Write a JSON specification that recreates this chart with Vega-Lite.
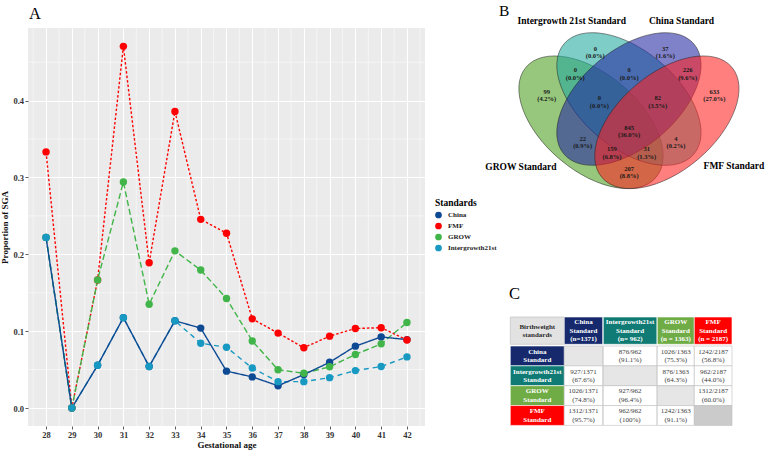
{
  "$schema": "https://vega.github.io/schema/vega-lite/v6.json",
  "padding": {"top": 3, "left": 0, "right": 0, "bottom": 0},
  "background": "white",
  "config": {
    "font": "Liberation Serif",
    "view": {"stroke": null},
    "axis": {"domain": false, "grid": true, "gridColor": "#FFFFFF", "gridWidth": 1.1, "tickColor": "#333333", "tickSize": 3, "tickWidth": 0.8, "labelFont": "Liberation Serif", "labelFontSize": 8.5, "labelFontWeight": "bold", "labelColor": "#333333", "titleFont": "Liberation Serif", "titleFontSize": 9, "titleFontWeight": "bold", "titleColor": "#111111"},
    "axisX": {"labelPadding": 1.5, "titlePadding": 1.5},
    "axisY": {"labelPadding": 1.5, "titlePadding": 3},
    "legend": {"titleFont": "Liberation Serif", "titleFontSize": 9.5, "titleFontWeight": "bold", "titleColor": "#000000", "labelFont": "Liberation Serif", "labelFontSize": 7, "labelFontWeight": "bold", "labelColor": "#222222", "symbolSize": 45, "symbolStrokeWidth": 0, "rowPadding": 3, "titlePadding": 4, "padding": 0, "labelOffset": 6}
  },
  "datasets": {
    "sga": [
      {"standard": "Intergrowth21st", "ga": 28, "p": 0.222},
      {"standard": "Intergrowth21st", "ga": 29, "p": 0},
      {"standard": "Intergrowth21st", "ga": 30, "p": 0.0556},
      {"standard": "Intergrowth21st", "ga": 31, "p": 0.1176},
      {"standard": "Intergrowth21st", "ga": 32, "p": 0.054},
      {"standard": "Intergrowth21st", "ga": 33, "p": 0.1135},
      {"standard": "Intergrowth21st", "ga": 34, "p": 0.0843},
      {"standard": "Intergrowth21st", "ga": 35, "p": 0.079},
      {"standard": "Intergrowth21st", "ga": 36, "p": 0.052},
      {"standard": "Intergrowth21st", "ga": 37, "p": 0.0343},
      {"standard": "Intergrowth21st", "ga": 38, "p": 0.0343},
      {"standard": "Intergrowth21st", "ga": 39, "p": 0.0395},
      {"standard": "Intergrowth21st", "ga": 40, "p": 0.0487},
      {"standard": "Intergrowth21st", "ga": 41, "p": 0.054},
      {"standard": "Intergrowth21st", "ga": 42, "p": 0.0665},
      {"standard": "FMF", "ga": 28, "p": 0.3333},
      {"standard": "FMF", "ga": 29, "p": 0},
      {"standard": "FMF", "ga": 30, "p": 0.1667},
      {"standard": "FMF", "ga": 31, "p": 0.4706},
      {"standard": "FMF", "ga": 32, "p": 0.189},
      {"standard": "FMF", "ga": 33, "p": 0.386},
      {"standard": "FMF", "ga": 34, "p": 0.2455},
      {"standard": "FMF", "ga": 35, "p": 0.2275},
      {"standard": "FMF", "ga": 36, "p": 0.116},
      {"standard": "FMF", "ga": 37, "p": 0.0975},
      {"standard": "FMF", "ga": 38, "p": 0.0785},
      {"standard": "FMF", "ga": 39, "p": 0.0935},
      {"standard": "FMF", "ga": 40, "p": 0.1035},
      {"standard": "FMF", "ga": 41, "p": 0.1045},
      {"standard": "FMF", "ga": 42, "p": 0.0885},
      {"standard": "GROW", "ga": 28, "p": 0.222},
      {"standard": "GROW", "ga": 29, "p": 0},
      {"standard": "GROW", "ga": 30, "p": 0.1667},
      {"standard": "GROW", "ga": 31, "p": 0.2941},
      {"standard": "GROW", "ga": 32, "p": 0.1351},
      {"standard": "GROW", "ga": 33, "p": 0.2045},
      {"standard": "GROW", "ga": 34, "p": 0.1795},
      {"standard": "GROW", "ga": 35, "p": 0.1425},
      {"standard": "GROW", "ga": 36, "p": 0.0872},
      {"standard": "GROW", "ga": 37, "p": 0.0498},
      {"standard": "GROW", "ga": 38, "p": 0.0452},
      {"standard": "GROW", "ga": 39, "p": 0.0536},
      {"standard": "GROW", "ga": 40, "p": 0.0697},
      {"standard": "GROW", "ga": 41, "p": 0.0835},
      {"standard": "GROW", "ga": 42, "p": 0.1112},
      {"standard": "China", "ga": 28, "p": 0.222},
      {"standard": "China", "ga": 29, "p": 0},
      {"standard": "China", "ga": 30, "p": 0.0556},
      {"standard": "China", "ga": 31, "p": 0.1176},
      {"standard": "China", "ga": 32, "p": 0.054},
      {"standard": "China", "ga": 33, "p": 0.1135},
      {"standard": "China", "ga": 34, "p": 0.104},
      {"standard": "China", "ga": 35, "p": 0.048},
      {"standard": "China", "ga": 36, "p": 0.0405},
      {"standard": "China", "ga": 37, "p": 0.029},
      {"standard": "China", "ga": 38, "p": 0.0435},
      {"standard": "China", "ga": 39, "p": 0.0595},
      {"standard": "China", "ga": 40, "p": 0.0805},
      {"standard": "China", "ga": 41, "p": 0.0925},
      {"standard": "China", "ga": 42, "p": 0.089}
    ],
    "minorx": [{"v": 27.5}, {"v": 28.5}, {"v": 29.5}, {"v": 30.5}, {"v": 31.5}, {"v": 32.5}, {"v": 33.5}, {"v": 34.5}, {"v": 35.5}, {"v": 36.5}, {"v": 37.5}, {"v": 38.5}, {"v": 39.5}, {"v": 40.5}, {"v": 41.5}, {"v": 42.5}],
    "minory": [{"v": 0.05}, {"v": 0.15}, {"v": 0.25}, {"v": 0.35}, {"v": 0.45}],
    "venn": [
      {"set": "GROW", "cx": 0.35, "cy": 0.47, "tilt": "down"},
      {"set": "Intergrowth", "cx": 0.5, "cy": 0.57, "tilt": "down"},
      {"set": "China", "cx": 0.5, "cy": 0.57, "tilt": "up"},
      {"set": "FMF", "cx": 0.65, "cy": 0.47, "tilt": "up"}
    ],
    "regions": [
      {"label": "0\n(0.0%)", "ux": 0.367, "uy": 0.77},
      {"label": "37\n(1.6%)", "ux": 0.644, "uy": 0.77},
      {"label": "0\n(0.0%)", "ux": 0.288, "uy": 0.677},
      {"label": "0\n(0.0%)", "ux": 0.501, "uy": 0.677},
      {"label": "226\n(9.6%)", "ux": 0.732, "uy": 0.677},
      {"label": "99\n(4.2%)", "ux": 0.175, "uy": 0.584},
      {"label": "633\n(27.0%)", "ux": 0.838, "uy": 0.584},
      {"label": "0\n(0.0%)", "ux": 0.383, "uy": 0.558},
      {"label": "82\n(3.5%)", "ux": 0.614, "uy": 0.558},
      {"label": "845\n(36.0%)", "ux": 0.501, "uy": 0.43},
      {"label": "22\n(0.9%)", "ux": 0.317, "uy": 0.384},
      {"label": "4\n(0.2%)", "ux": 0.686, "uy": 0.384},
      {"label": "159\n(6.8%)", "ux": 0.433, "uy": 0.338},
      {"label": "31\n(1.3%)", "ux": 0.57, "uy": 0.338},
      {"label": "207\n(8.8%)", "ux": 0.501, "uy": 0.255}
    ],
    "setnames": [
      {"name": "Intergrowth 21st Standard", "ux": 0.274, "uy": 0.906},
      {"name": "China Standard", "ux": 0.708, "uy": 0.906},
      {"name": "GROW Standard", "ux": 0.073, "uy": 0.279},
      {"name": "FMF Standard", "ux": 0.915, "uy": 0.283}
    ],
    "table": [
      {"col": "label", "row": "head", "tone": "corner", "label": "Birthweight\nstandards"},
      {"col": "China", "row": "head", "tone": "China", "label": "China\nStandard\n(n=1371)"},
      {"col": "Intergrowth", "row": "head", "tone": "Intergrowth", "label": "Intergrowth21st\nStandard\n(n= 962)"},
      {"col": "GROW", "row": "head", "tone": "GROW", "label": "GROW\nStandard\n(n = 1363)"},
      {"col": "FMF", "row": "head", "tone": "FMF", "label": "FMF\nStandard\n(n = 2187)"},
      {"col": "label", "row": "China", "tone": "China", "label": "China\nStandard"},
      {"col": "label", "row": "Intergrowth", "tone": "Intergrowth", "label": "Intergrowth21st\nStandard"},
      {"col": "label", "row": "GROW", "tone": "GROW", "label": "GROW\nStandard"},
      {"col": "label", "row": "FMF", "tone": "FMF", "label": "FMF\nStandard"},
      {"col": "China", "row": "China", "tone": "diag", "label": ""},
      {"col": "China", "row": "Intergrowth", "tone": "cell", "label": "927/1371\n(67.6%)"},
      {"col": "China", "row": "GROW", "tone": "cell", "label": "1026/1371\n(74.8%)"},
      {"col": "China", "row": "FMF", "tone": "cell", "label": "1312/1371\n(95.7%)"},
      {"col": "Intergrowth", "row": "China", "tone": "cell", "label": "876/962\n(91.1%)"},
      {"col": "Intergrowth", "row": "Intergrowth", "tone": "diag", "label": ""},
      {"col": "Intergrowth", "row": "GROW", "tone": "cell", "label": "927/962\n(96.4%)"},
      {"col": "Intergrowth", "row": "FMF", "tone": "cell", "label": "962/962\n(100%)"},
      {"col": "GROW", "row": "China", "tone": "cell", "label": "1026/1363\n(75.3%)"},
      {"col": "GROW", "row": "Intergrowth", "tone": "cell", "label": "876/1363\n(64.3%)"},
      {"col": "GROW", "row": "GROW", "tone": "diag", "label": ""},
      {"col": "GROW", "row": "FMF", "tone": "cell", "label": "1242/1363\n(91.1%)"},
      {"col": "FMF", "row": "China", "tone": "cell", "label": "1242/2187\n(56.8%)"},
      {"col": "FMF", "row": "Intergrowth", "tone": "cell", "label": "962/2187\n(44.0%)"},
      {"col": "FMF", "row": "GROW", "tone": "cell", "label": "1312/2187\n(60.0%)"},
      {"col": "FMF", "row": "FMF", "tone": "diagFMF", "label": ""}
    ]
  },
  "bounds": "flush",
  "spacing": 85.3,
  "resolve": {"scale": {"color": "independent", "fill": "independent", "stroke": "independent", "strokeDash": "independent"}, "legend": {"color": "independent"}},
  "hconcat": [
    {
      "width": 397,
      "height": 398,
      "view": {"fill": "#EBEBEB", "stroke": null},
      "layer": [
        {
          "data": {"name": "minorx"},
          "mark": {"type": "rule", "stroke": "#FFFFFF", "strokeWidth": 0.5},
          "encoding": {"x": {"field": "v", "type": "quantitative", "title": "Gestational age", "scale": {"domain": [27.3, 42.7], "nice": false, "zero": false}, "axis": {"values": [28, 29, 30, 31, 32, 33, 34, 35, 36, 37, 38, 39, 40, 41, 42], "format": "d"}}}
        },
        {
          "data": {"name": "minory"},
          "mark": {"type": "rule", "stroke": "#FFFFFF", "strokeWidth": 0.5},
          "encoding": {"y": {"field": "v", "type": "quantitative", "title": "Proportion of SGA", "scale": {"domain": [-0.0234, 0.4945], "nice": false, "zero": false}, "axis": {"values": [0, 0.1, 0.2, 0.3, 0.4], "format": ".1f"}}}
        },
        {
          "data": {"name": "sga"},
          "mark": {"type": "line", "strokeWidth": 1.4},
          "encoding": {
            "x": {"field": "ga", "type": "quantitative", "title": "Gestational age", "scale": {"domain": [27.3, 42.7], "nice": false, "zero": false}, "axis": {"values": [28, 29, 30, 31, 32, 33, 34, 35, 36, 37, 38, 39, 40, 41, 42], "format": "d"}},
            "y": {"field": "p", "type": "quantitative", "title": "Proportion of SGA", "scale": {"domain": [-0.0234, 0.4945], "nice": false, "zero": false}, "axis": {"values": [0, 0.1, 0.2, 0.3, 0.4], "format": ".1f"}},
            "stroke": {"field": "standard", "type": "nominal", "scale": {"domain": ["Intergrowth21st", "GROW", "FMF", "China"], "range": ["#1899C2", "#41B549", "#FF0000", "#0E4A93"]}, "legend": null},
            "strokeDash": {"field": "standard", "type": "nominal", "scale": {"domain": ["Intergrowth21st", "GROW", "FMF", "China"], "range": [[5, 4], [6, 3], [2.5, 2], [1, 0]]}, "legend": null}
          }
        },
        {
          "data": {"name": "sga"},
          "mark": {"type": "point", "filled": true, "size": 55, "opacity": 1},
          "encoding": {
            "x": {"field": "ga", "type": "quantitative", "title": "Gestational age", "scale": {"domain": [27.3, 42.7], "nice": false, "zero": false}, "axis": {"values": [28, 29, 30, 31, 32, 33, 34, 35, 36, 37, 38, 39, 40, 41, 42], "format": "d"}},
            "y": {"field": "p", "type": "quantitative", "title": "Proportion of SGA", "scale": {"domain": [-0.0234, 0.4945], "nice": false, "zero": false}, "axis": {"values": [0, 0.1, 0.2, 0.3, 0.4], "format": ".1f"}},
            "color": {"field": "standard", "type": "nominal", "scale": {"domain": ["China", "FMF", "GROW", "Intergrowth21st"], "range": ["#0E4A93", "#FF0000", "#41B549", "#1899C2"]}, "legend": {"title": "Standards", "orient": "none", "legendX": 407, "legendY": 170, "symbolType": "circle"}},
            "order": {"field": "standard", "sort": "ascending"}
          }
        },
        {
          "data": {"values": [{}]},
          "mark": {"type": "text", "text": "A", "fontSize": 16.5, "fontWeight": "normal", "font": "Liberation Serif", "align": "left", "baseline": "alphabetic", "color": "#000000"},
          "encoding": {
            "x": {"datum": 27.34, "type": "quantitative", "title": "Gestational age", "scale": {"domain": [27.3, 42.7], "nice": false, "zero": false}, "axis": {"values": [28, 29, 30, 31, 32, 33, 34, 35, 36, 37, 38, 39, 40, 41, 42], "format": "d"}},
            "y": {"datum": 0.5066, "type": "quantitative", "title": "Proportion of SGA", "scale": {"domain": [-0.0234, 0.4945], "nice": false, "zero": false}, "axis": {"values": [0, 0.1, 0.2, 0.3, 0.4], "format": ".1f"}}
          }
        }
      ]
    },
    {
      "bounds": "flush",
      "spacing": 85,
      "resolve": {"scale": {"fill": "independent", "color": "independent"}},
      "vconcat": [
        {
          "width": 245.1,
          "height": 203.7,
          "view": {"stroke": null},
          "layer": [
            {
              "data": {"name": "venn"},
              "transform": [{"filter": "datum.tilt == 'down'"}],
              "mark": {"type": "point", "shape": "M -1 0 C -1 -0.3137 -0.5523 -0.568 0 -0.568 C 0.5523 -0.568 1 -0.3137 1 0 C 1 0.3137 0.5523 0.568 0 0.568 C -0.5523 0.568 -1 0.3137 -1 0 Z", "size": 29036, "angle": 40.3, "filled": true, "opacity": 1, "fillOpacity": 0.58, "stroke": "#222222", "strokeWidth": 0.6, "strokeOpacity": 0.8},
              "encoding": {
                "x": {"field": "cx", "type": "quantitative", "scale": {"domain": [0.031, 1], "nice": false, "zero": false}, "axis": null},
                "y": {"field": "cy", "type": "quantitative", "scale": {"domain": [0, 0.875], "nice": false, "zero": false}, "axis": null},
                "fill": {"field": "set", "type": "nominal", "scale": {"domain": ["GROW", "Intergrowth", "China", "FMF"], "range": ["#4C9E1E", "#20A89E", "#2226A2", "#FF2020"]}, "legend": null}
              }
            },
            {
              "data": {"name": "venn"},
              "transform": [{"filter": "datum.tilt == 'up'"}],
              "mark": {"type": "point", "shape": "M -1 0 C -1 -0.3137 -0.5523 -0.568 0 -0.568 C 0.5523 -0.568 1 -0.3137 1 0 C 1 0.3137 0.5523 0.568 0 0.568 C -0.5523 0.568 -1 0.3137 -1 0 Z", "size": 29036, "angle": -40.3, "filled": true, "opacity": 1, "fillOpacity": 0.58, "stroke": "#222222", "strokeWidth": 0.6, "strokeOpacity": 0.8},
              "encoding": {
                "x": {"field": "cx", "type": "quantitative", "scale": {"domain": [0.031, 1], "nice": false, "zero": false}, "axis": null},
                "y": {"field": "cy", "type": "quantitative", "scale": {"domain": [0, 0.875], "nice": false, "zero": false}, "axis": null},
                "fill": {"field": "set", "type": "nominal", "scale": {"domain": ["GROW", "Intergrowth", "China", "FMF"], "range": ["#4C9E1E", "#20A89E", "#2226A2", "#FF2020"]}, "legend": null}
              }
            },
            {
              "data": {"name": "regions"},
              "mark": {"type": "text", "fontSize": 6.5, "fontWeight": "bold", "lineBreak": "\n", "lineHeight": 7.5, "dy": -3.75, "color": "#1A1A1A", "font": "Liberation Serif"},
              "encoding": {
                "x": {"field": "ux", "type": "quantitative", "scale": {"domain": [0.031, 1], "nice": false, "zero": false}, "axis": null},
                "y": {"field": "uy", "type": "quantitative", "scale": {"domain": [0, 0.875], "nice": false, "zero": false}, "axis": null},
                "text": {"field": "label", "type": "nominal"}
              }
            },
            {
              "data": {"name": "setnames"},
              "mark": {"type": "text", "fontSize": 9.5, "fontWeight": "bold", "color": "#000000", "font": "Liberation Serif"},
              "encoding": {
                "x": {"field": "ux", "type": "quantitative", "scale": {"domain": [0.031, 1], "nice": false, "zero": false}, "axis": null},
                "y": {"field": "uy", "type": "quantitative", "scale": {"domain": [0, 0.875], "nice": false, "zero": false}, "axis": null},
                "text": {"field": "name", "type": "nominal"}
              }
            },
            {
              "data": {"values": [{}]},
              "mark": {"type": "text", "text": "B", "fontSize": 15.5, "fontWeight": "normal", "font": "Liberation Serif", "align": "left", "baseline": "alphabetic", "color": "#000000"},
              "encoding": {
                "x": {"datum": -0.0138, "type": "quantitative", "scale": {"domain": [0.031, 1], "nice": false, "zero": false}, "axis": null},
                "y": {"datum": 0.928, "type": "quantitative", "scale": {"domain": [0, 0.875], "nice": false, "zero": false}, "axis": null}
              }
            },
            {
              "data": {"values": [{}]},
              "mark": {"type": "text", "text": "C", "fontSize": 16.5, "fontWeight": "normal", "font": "Liberation Serif", "align": "left", "baseline": "alphabetic", "color": "#000000"},
              "encoding": {
                "x": {"datum": 0.0257, "type": "quantitative", "scale": {"domain": [0.031, 1], "nice": false, "zero": false}, "axis": null},
                "y": {"datum": -0.288, "type": "quantitative", "scale": {"domain": [0, 0.875], "nice": false, "zero": false}, "axis": null}
              }
            }
          ]
        },
        {
          "bounds": "full",
          "spacing": 0,
          "vconcat": [
            {
              "bounds": "flush",
              "spacing": 0,
              "hconcat": [
                {
                  "width": 54, "height": 27.3,
                  "data": {"name": "table"},
                  "transform": [{"filter": "datum.col == 'label' && datum.row == 'head'"}],
                  "encoding": {"y": {"field": "row", "type": "nominal", "scale": {"domain": ["head"], "paddingInner": 0, "paddingOuter": 0}, "axis": null}},
                  "layer": [
                    {"mark": {"type": "rect", "stroke": "#BDBDBD", "strokeWidth": 0.6}, "encoding": {"x": {"value": 0}, "x2": {"value": "width"}, "fill": {"field": "tone", "type": "nominal", "scale": {"domain": ["corner", "China", "Intergrowth", "GROW", "FMF", "diag", "diagFMF", "cell"], "range": ["#E2E2E2", "#15296C", "#0F7B74", "#70AC45", "#FF0000", "#E6E6E6", "#CBCBCB", "#FFFFFF"]}, "legend": null}}},
                    {"mark": {"type": "text", "fontSize": 7, "fontWeight": "bold", "lineBreak": "\n", "lineHeight": 8.3, "dy": -4.15, "color": "#2B2B2B"}, "encoding": {"text": {"field": "label", "type": "nominal"}}}
                  ]
                },
                {
                  "width": 38.4, "height": 27.3,
                  "data": {"name": "table"},
                  "transform": [{"filter": "datum.col == 'China' && datum.row == 'head'"}],
                  "encoding": {"y": {"field": "row", "type": "nominal", "scale": {"domain": ["head"], "paddingInner": 0, "paddingOuter": 0}, "axis": null}},
                  "layer": [
                    {"mark": {"type": "rect", "stroke": "#FFFFFF", "strokeWidth": 0.6}, "encoding": {"x": {"value": 0}, "x2": {"value": "width"}, "fill": {"field": "tone", "type": "nominal", "scale": {"domain": ["corner", "China", "Intergrowth", "GROW", "FMF", "diag", "diagFMF", "cell"], "range": ["#E2E2E2", "#15296C", "#0F7B74", "#70AC45", "#FF0000", "#E6E6E6", "#CBCBCB", "#FFFFFF"]}, "legend": null}}},
                    {"mark": {"type": "text", "fontSize": 7, "fontWeight": "bold", "lineBreak": "\n", "lineHeight": 8.3, "dy": -8.3, "color": "#FFFFFF"}, "encoding": {"text": {"field": "label", "type": "nominal"}}}
                  ]
                },
                {
                  "width": 53.6, "height": 27.3,
                  "data": {"name": "table"},
                  "transform": [{"filter": "datum.col == 'Intergrowth' && datum.row == 'head'"}],
                  "encoding": {"y": {"field": "row", "type": "nominal", "scale": {"domain": ["head"], "paddingInner": 0, "paddingOuter": 0}, "axis": null}},
                  "layer": [
                    {"mark": {"type": "rect", "stroke": "#FFFFFF", "strokeWidth": 0.6}, "encoding": {"x": {"value": 0}, "x2": {"value": "width"}, "fill": {"field": "tone", "type": "nominal", "scale": {"domain": ["corner", "China", "Intergrowth", "GROW", "FMF", "diag", "diagFMF", "cell"], "range": ["#E2E2E2", "#15296C", "#0F7B74", "#70AC45", "#FF0000", "#E6E6E6", "#CBCBCB", "#FFFFFF"]}, "legend": null}}},
                    {"mark": {"type": "text", "fontSize": 7, "fontWeight": "bold", "lineBreak": "\n", "lineHeight": 8.3, "dy": -8.3, "color": "#FFFFFF"}, "encoding": {"text": {"field": "label", "type": "nominal"}}}
                  ]
                },
                {
                  "width": 37, "height": 27.3,
                  "data": {"name": "table"},
                  "transform": [{"filter": "datum.col == 'GROW' && datum.row == 'head'"}],
                  "encoding": {"y": {"field": "row", "type": "nominal", "scale": {"domain": ["head"], "paddingInner": 0, "paddingOuter": 0}, "axis": null}},
                  "layer": [
                    {"mark": {"type": "rect", "stroke": "#FFFFFF", "strokeWidth": 0.6}, "encoding": {"x": {"value": 0}, "x2": {"value": "width"}, "fill": {"field": "tone", "type": "nominal", "scale": {"domain": ["corner", "China", "Intergrowth", "GROW", "FMF", "diag", "diagFMF", "cell"], "range": ["#E2E2E2", "#15296C", "#0F7B74", "#70AC45", "#FF0000", "#E6E6E6", "#CBCBCB", "#FFFFFF"]}, "legend": null}}},
                    {"mark": {"type": "text", "fontSize": 7, "fontWeight": "bold", "lineBreak": "\n", "lineHeight": 8.3, "dy": -8.3, "color": "#FFFFFF"}, "encoding": {"text": {"field": "label", "type": "nominal"}}}
                  ]
                },
                {
                  "width": 37.7, "height": 27.3,
                  "data": {"name": "table"},
                  "transform": [{"filter": "datum.col == 'FMF' && datum.row == 'head'"}],
                  "encoding": {"y": {"field": "row", "type": "nominal", "scale": {"domain": ["head"], "paddingInner": 0, "paddingOuter": 0}, "axis": null}},
                  "layer": [
                    {"mark": {"type": "rect", "stroke": "#FFFFFF", "strokeWidth": 0.6}, "encoding": {"x": {"value": 0}, "x2": {"value": "width"}, "fill": {"field": "tone", "type": "nominal", "scale": {"domain": ["corner", "China", "Intergrowth", "GROW", "FMF", "diag", "diagFMF", "cell"], "range": ["#E2E2E2", "#15296C", "#0F7B74", "#70AC45", "#FF0000", "#E6E6E6", "#CBCBCB", "#FFFFFF"]}, "legend": null}}},
                    {"mark": {"type": "text", "fontSize": 7, "fontWeight": "bold", "lineBreak": "\n", "lineHeight": 8.3, "dy": -8.3, "color": "#FFFFFF"}, "encoding": {"text": {"field": "label", "type": "nominal"}}}
                  ]
                }
              ]
            },
            {
              "bounds": "flush",
              "spacing": 0,
              "hconcat": [
                {
                  "width": 54, "height": 79.4,
                  "data": {"name": "table"},
                  "transform": [{"filter": "datum.col == 'label' && datum.row != 'head'"}],
                  "encoding": {"y": {"field": "row", "type": "nominal", "scale": {"domain": ["China", "Intergrowth", "GROW", "FMF"], "paddingInner": 0, "paddingOuter": 0}, "axis": null}},
                  "layer": [
                    {"mark": {"type": "rect", "stroke": "#FFFFFF", "strokeWidth": 0.6}, "encoding": {"x": {"value": 0}, "x2": {"value": "width"}, "fill": {"field": "tone", "type": "nominal", "scale": {"domain": ["corner", "China", "Intergrowth", "GROW", "FMF", "diag", "diagFMF", "cell"], "range": ["#E2E2E2", "#15296C", "#0F7B74", "#70AC45", "#FF0000", "#E6E6E6", "#CBCBCB", "#FFFFFF"]}, "legend": null}}},
                    {"mark": {"type": "text", "fontSize": 7, "fontWeight": "bold", "lineBreak": "\n", "lineHeight": 8.3, "dy": -4.15, "color": "#FFFFFF"}, "encoding": {"text": {"field": "label", "type": "nominal"}}}
                  ]
                },
                {
                  "width": 38.4, "height": 79.4,
                  "data": {"name": "table"},
                  "transform": [{"filter": "datum.col == 'China' && datum.row != 'head'"}],
                  "encoding": {"y": {"field": "row", "type": "nominal", "scale": {"domain": ["China", "Intergrowth", "GROW", "FMF"], "paddingInner": 0, "paddingOuter": 0}, "axis": null}},
                  "layer": [
                    {"mark": {"type": "rect", "stroke": "#BDBDBD", "strokeWidth": 0.6}, "encoding": {"x": {"value": 0}, "x2": {"value": "width"}, "fill": {"field": "tone", "type": "nominal", "scale": {"domain": ["corner", "China", "Intergrowth", "GROW", "FMF", "diag", "diagFMF", "cell"], "range": ["#E2E2E2", "#15296C", "#0F7B74", "#70AC45", "#FF0000", "#E6E6E6", "#CBCBCB", "#FFFFFF"]}, "legend": null}}},
                    {"mark": {"type": "text", "fontSize": 7, "fontWeight": "normal", "lineBreak": "\n", "lineHeight": 8.5, "dy": -4.25, "color": "#404040"}, "encoding": {"text": {"field": "label", "type": "nominal"}}}
                  ]
                },
                {
                  "width": 53.6, "height": 79.4,
                  "data": {"name": "table"},
                  "transform": [{"filter": "datum.col == 'Intergrowth' && datum.row != 'head'"}],
                  "encoding": {"y": {"field": "row", "type": "nominal", "scale": {"domain": ["China", "Intergrowth", "GROW", "FMF"], "paddingInner": 0, "paddingOuter": 0}, "axis": null}},
                  "layer": [
                    {"mark": {"type": "rect", "stroke": "#BDBDBD", "strokeWidth": 0.6}, "encoding": {"x": {"value": 0}, "x2": {"value": "width"}, "fill": {"field": "tone", "type": "nominal", "scale": {"domain": ["corner", "China", "Intergrowth", "GROW", "FMF", "diag", "diagFMF", "cell"], "range": ["#E2E2E2", "#15296C", "#0F7B74", "#70AC45", "#FF0000", "#E6E6E6", "#CBCBCB", "#FFFFFF"]}, "legend": null}}},
                    {"mark": {"type": "text", "fontSize": 7, "fontWeight": "normal", "lineBreak": "\n", "lineHeight": 8.5, "dy": -4.25, "color": "#404040"}, "encoding": {"text": {"field": "label", "type": "nominal"}}}
                  ]
                },
                {
                  "width": 37, "height": 79.4,
                  "data": {"name": "table"},
                  "transform": [{"filter": "datum.col == 'GROW' && datum.row != 'head'"}],
                  "encoding": {"y": {"field": "row", "type": "nominal", "scale": {"domain": ["China", "Intergrowth", "GROW", "FMF"], "paddingInner": 0, "paddingOuter": 0}, "axis": null}},
                  "layer": [
                    {"mark": {"type": "rect", "stroke": "#BDBDBD", "strokeWidth": 0.6}, "encoding": {"x": {"value": 0}, "x2": {"value": "width"}, "fill": {"field": "tone", "type": "nominal", "scale": {"domain": ["corner", "China", "Intergrowth", "GROW", "FMF", "diag", "diagFMF", "cell"], "range": ["#E2E2E2", "#15296C", "#0F7B74", "#70AC45", "#FF0000", "#E6E6E6", "#CBCBCB", "#FFFFFF"]}, "legend": null}}},
                    {"mark": {"type": "text", "fontSize": 7, "fontWeight": "normal", "lineBreak": "\n", "lineHeight": 8.5, "dy": -4.25, "color": "#404040"}, "encoding": {"text": {"field": "label", "type": "nominal"}}}
                  ]
                },
                {
                  "width": 37.7, "height": 79.4,
                  "data": {"name": "table"},
                  "transform": [{"filter": "datum.col == 'FMF' && datum.row != 'head'"}],
                  "encoding": {"y": {"field": "row", "type": "nominal", "scale": {"domain": ["China", "Intergrowth", "GROW", "FMF"], "paddingInner": 0, "paddingOuter": 0}, "axis": null}},
                  "layer": [
                    {"mark": {"type": "rect", "stroke": "#BDBDBD", "strokeWidth": 0.6}, "encoding": {"x": {"value": 0}, "x2": {"value": "width"}, "fill": {"field": "tone", "type": "nominal", "scale": {"domain": ["corner", "China", "Intergrowth", "GROW", "FMF", "diag", "diagFMF", "cell"], "range": ["#E2E2E2", "#15296C", "#0F7B74", "#70AC45", "#FF0000", "#E6E6E6", "#CBCBCB", "#FFFFFF"]}, "legend": null}}},
                    {"mark": {"type": "text", "fontSize": 7, "fontWeight": "normal", "lineBreak": "\n", "lineHeight": 8.5, "dy": -4.25, "color": "#404040"}, "encoding": {"text": {"field": "label", "type": "nominal"}}}
                  ]
                }
              ]
            }
          ]
        }
      ]
    }
  ]
}
